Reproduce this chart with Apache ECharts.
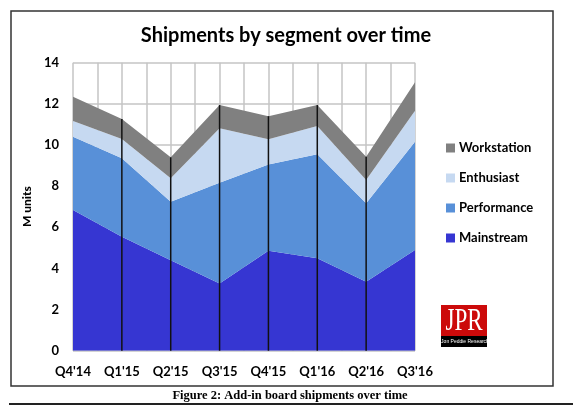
<!DOCTYPE html>
<html>
<head>
<meta charset="utf-8">
<script src="https://cdn.jsdelivr.net/npm/echarts@6/dist/echarts.min.js"></script>
<style>
html,body{margin:0;padding:0;background:#fff;}
#c{width:580px;height:418px;}
</style>
</head>
<body>
<div id="c"></div>
<script>
const categories = ["Q4'14","Q1'15","Q2'15","Q3'15","Q4'15","Q1'16","Q2'16","Q3'16"];
const mainstream  = [6.84, 5.54, 4.40, 3.27, 4.86, 4.49, 3.35, 4.89];
const performance = [3.56, 3.81, 2.84, 4.90, 4.19, 5.06, 3.82, 5.27];
const enthusiast  = [0.77, 0.94, 1.14, 2.64, 1.23, 1.37, 1.13, 1.51];
const workstation = [1.18, 0.97, 1.02, 1.13, 1.12, 1.02, 1.13, 1.38];
const yTicks = [0, 2, 4, 6, 8, 10, 12, 14];

const totals = categories.map((c, i) => mainstream[i] + performance[i] + enthusiast[i] + workstation[i]);

const FONT = 'Lato';
const chart = echarts.init(document.getElementById('c'));

function area(name, data, color) {
  return {
    name: name, type: 'line', stack: 'total', data: data,
    xAxisIndex: 0, yAxisIndex: 0,
    symbol: 'none', lineStyle: { width: 0 },
    itemStyle: { color: color },
    areaStyle: { color: color, opacity: 1 },
    emphasis: { disabled: true }, z: 2
  };
}

chart.setOption({
  animation: false,
  backgroundColor: '#fff',
  title: {
    text: 'Shipments by segment over time',
    left: 281, top: 21, textAlign: 'center',
    textStyle: { fontFamily: FONT, fontWeight: 'bold', fontSize: 20, color: '#000' }
  },
  legend: {
    orient: 'vertical', left: 441, top: 135,
    itemWidth: 9, itemHeight: 9, itemGap: 14, icon: 'rect',
    data: ['Workstation', 'Enthusiast', 'Performance', 'Mainstream'],
    textStyle: { fontFamily: FONT, fontWeight: 'bold', fontSize: 13, color: '#000', padding: [0, 0, 0, -1], lineHeight: 16 }
  },
  grid: { left: 73, right: 165, top: 62.7, bottom: 67.3, containLabel: false },
  xAxis: [
    {
      type: 'category', data: categories, boundaryGap: false,
      axisLine: { show: false }, axisTick: { show: false },
      axisLabel: { margin: 15, fontFamily: FONT, fontWeight: 'bold', fontSize: 13, color: '#000' },
      splitLine: { show: false }
    },
    {
      type: 'value', min: 0, max: 7, interval: 0.5, show: true, position: 'bottom',
      axisLine: { show: false }, axisTick: { show: false }, axisLabel: { show: false },
      splitLine: { show: true, lineStyle: { color: '#c4c4c4', width: 1.5 } }
    }
  ],
  yAxis: {
    type: 'value', min: 0, max: 14, interval: 2,
    name: 'M units', nameLocation: 'middle', nameGap: 32, nameRotate: 90,
    nameTextStyle: { fontFamily: FONT, fontWeight: 900, fontSize: 12, color: '#000' },
    axisLine: { show: false }, axisTick: { show: false },
    axisLabel: { margin: 14, fontFamily: FONT, fontWeight: 'bold', fontSize: 13, color: '#000',
      formatter: v => yTicks.includes(v) ? String(v) : '' },
    splitLine: { show: true, lineStyle: { color: '#c4c4c4', width: 1.5 } }
  },
  series: [
    area('Mainstream', mainstream, '#3636d2'),
    area('Performance', performance, '#5890d8'),
    area('Enthusiast', enthusiast, '#c6d9f1'),
    area('Workstation', workstation, '#808080'),
    {
      type: 'custom', xAxisIndex: 0, yAxisIndex: 0, z: 5, silent: true,
      data: totals.map((t, i) => [i, t]),
      renderItem: function (params, api) {
        const i = api.value(0);
        if (i === 0 || i === categories.length - 1) return null;
        const p0 = api.coord([i, 0]);
        const p1 = api.coord([i, api.value(1)]);
        return {
          type: 'line',
          shape: { x1: p0[0], y1: p0[1], x2: p1[0], y2: p1[1] },
          style: { stroke: '#111', lineWidth: 1.5 }
        };
      }
    }
  ],
  graphic: [
    { type: 'rect', shape: { x: 11, y: 11, width: 542, height: 375 },
      style: { fill: 'none', stroke: '#333', lineWidth: 1.5 }, z: 10 },
    { type: 'line', shape: { x1: 9, y1: 404, x2: 573, y2: 404 },
      style: { stroke: '#222', lineWidth: 2 }, z: 10 },
    { type: 'text', left: 'center', top: 389, z: 10,
      style: { text: 'Figure 2: Add-in board shipments over time', x: 0,
        font: 'bold 12.5px "Liberation Serif"', fill: '#000' } },
    { type: 'group', left: 441, top: 305, z: 10, children: [
      { type: 'rect', shape: { x: 0, y: 0, width: 46, height: 31 }, style: { fill: '#cc0a0a' } },
      { type: 'rect', shape: { x: 0, y: 31, width: 46, height: 11 }, style: { fill: '#000' } },
      { type: 'text', style: { text: 'JPR', x: 23, y: 1, align: 'center', verticalAlign: 'top',
          font: '32px "Liberation Serif"', fill: '#fff' }, scaleX: 0.72, originX: 23 },
      { type: 'text', style: { text: 'Jon Peddie Research', x: 24, y: 36.5, align: 'center', verticalAlign: 'middle',
          font: '5px "Liberation Sans Narrow", "Liberation Sans"', fill: '#fff' } }
    ] }
  ]
});
</script>
</body>
</html>
